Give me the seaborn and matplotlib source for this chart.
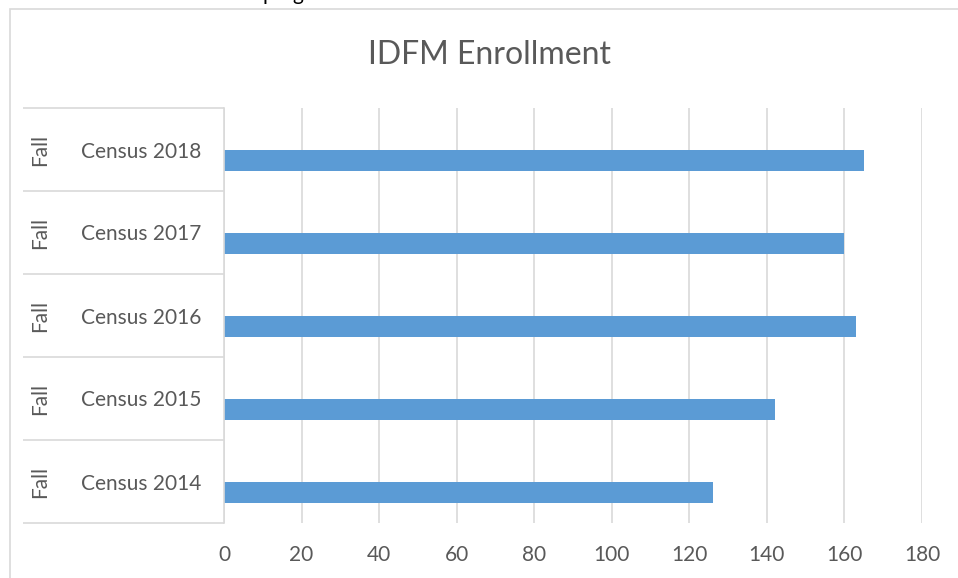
import pandas as pd
import seaborn as sns
import matplotlib.pyplot as plt
from matplotlib.patches import Rectangle
from matplotlib.ticker import FixedLocator

# Data (top to bottom)
censuses = ["Census 2018", "Census 2017", "Census 2016", "Census 2015", "Census 2014"]
terms = ["Fall", "Fall", "Fall", "Fall", "Fall"]
enrollment = [165, 160, 163, 142, 126]
x_ticks = [0, 20, 40, 60, 80, 100, 120, 140, 160, 180]

GRAY = "#D9D9D9"
TEXT = "#595959"
BLUE = "#5B9BD5"

sns.set_theme(style="white")
plt.rcParams['font.family'] = ['Lato', 'DejaVu Sans']

# Excel-style layout: an empty first series pushes the bar below the band centre
df = pd.DataFrame({
    'census': censuses * 2,
    'series': ['blank'] * len(censuses) + ['Enrollment'] * len(censuses),
    'value': [float('nan')] * len(censuses) + enrollment,
})

fig = plt.figure(figsize=(9.58, 5.78), dpi=100)
ax = fig.add_axes([224 / 958, 55 / 578, 698 / 958, 415 / 578])

sns.barplot(data=df, x='value', y='census', hue='series',
            hue_order=['blank', 'Enrollment'], order=censuses,
            palette={'blank': BLUE, 'Enrollment': BLUE}, saturation=1,
            width=0.52, linewidth=0, legend=False, ax=ax)

ax.set_xlim(0, 180)
ax.set_xticks(x_ticks)
ax.set_xlabel('')
ax.set_ylabel('')
ax.grid(axis='x', color=GRAY, linewidth=1.2)
ax.grid(axis='y', visible=False)
ax.set_axisbelow(True)

for side in ['top', 'right', 'bottom']:
    ax.spines[side].set_visible(False)
ax.spines['left'].set_color(GRAY)
ax.spines['left'].set_linewidth(1.2)

ax.tick_params(axis='x', length=0, pad=16, labelsize=15, labelcolor=TEXT)
ax.tick_params(axis='y', which='major', length=0, pad=16.5, labelsize=15, labelcolor=TEXT)

# category separators drawn as long minor ticks
bounds = [i - 0.5 for i in range(len(censuses) + 1)]
ax.yaxis.set_minor_locator(FixedLocator(bounds))
ax.tick_params(axis='y', which='minor', left=True, length=144.7, width=1.2, color=GRAY)

# outer level of the category axis
for i, term in enumerate(terms):
    ax.text(-184 / 698, i, term, transform=ax.get_yaxis_transform(),
            rotation=90, ha='center', va='center', fontsize=15, color=TEXT)

fig.text(490 / 958, 1 - 55 / 578, 'IDFM Enrollment', ha='center', va='center',
         fontsize=23, color=TEXT)

# chart border and clipped text from the page above
fig.add_artist(Rectangle((10 / 958, -0.1), 2, 1.1 - 9 / 578, transform=fig.transFigure,
                         fill=False, edgecolor=GRAY, linewidth=1.2))
fig.text(262 / 958, 1.0, 'program', ha='left', va='baseline', fontsize=15, color='black')

fig.savefig('out.png', dpi=100)
